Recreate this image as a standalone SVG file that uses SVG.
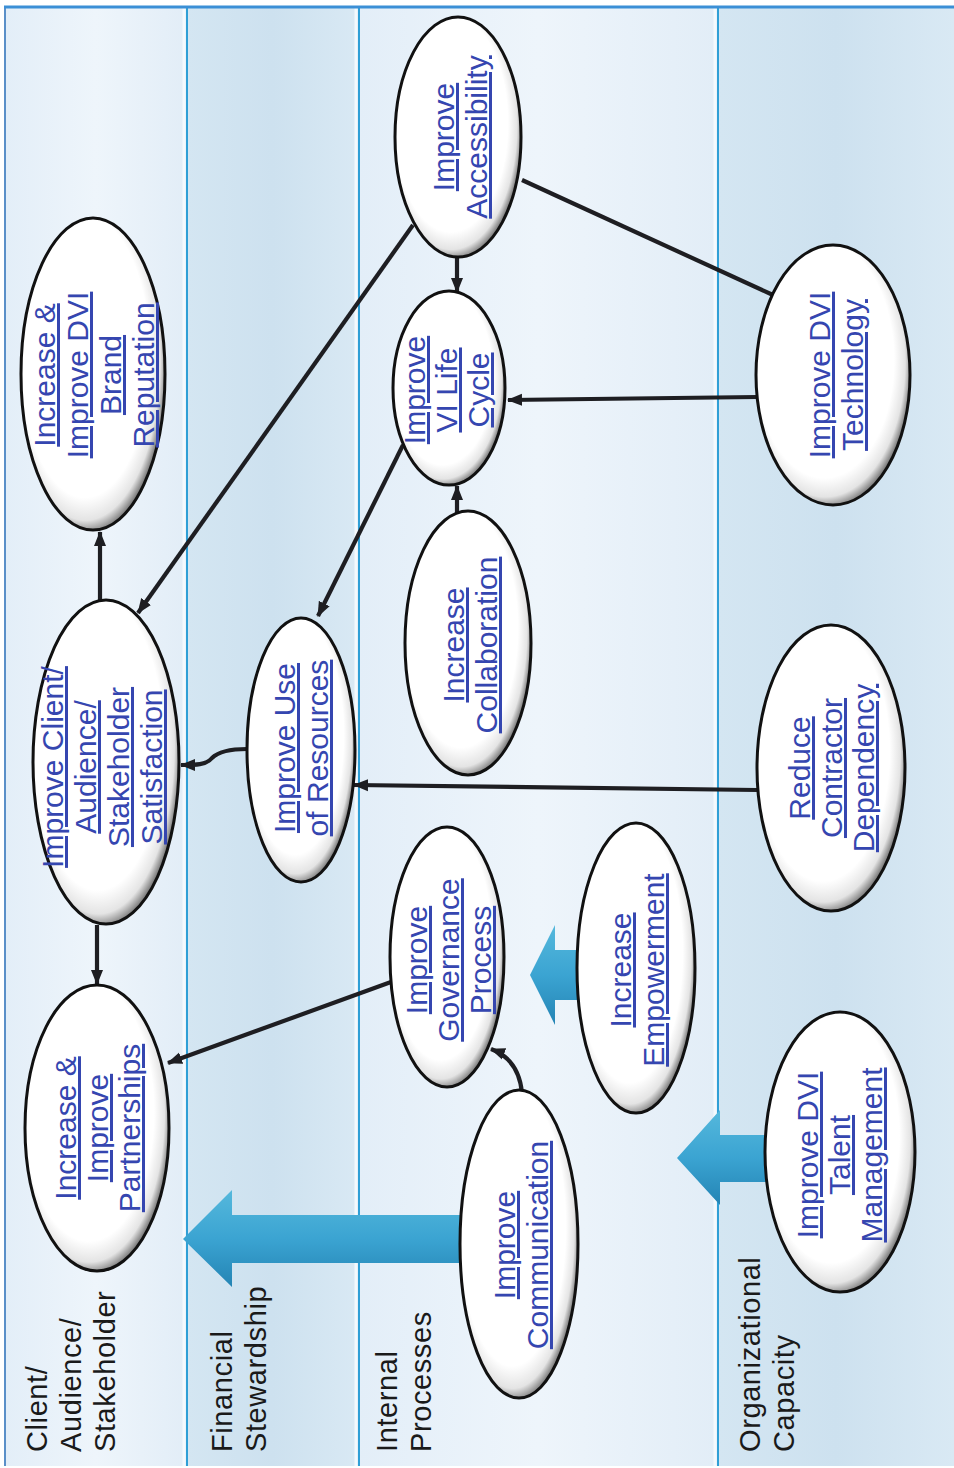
<svg xmlns="http://www.w3.org/2000/svg" width="954" height="1468" viewBox="0 0 954 1468">
<defs>
<style>
.node-text{font-family:"Liberation Sans",Arial,sans-serif;font-size:30px;fill:#3546b0;text-decoration:underline;text-anchor:middle}
.lane-text{font-family:"Liberation Sans",Arial,sans-serif;font-size:29px;fill:#1a1a1a;letter-spacing:0.6px}
.ell{fill:url(#ellGrad);stroke:#111;stroke-width:3}
.conn{fill:none;stroke:#1e1e22;stroke-width:4.2}
.block{fill:url(#blockGrad)}
.divider{stroke:#2f9fd6;stroke-width:2}
.divlight{stroke:#f4f9fd;stroke-width:3}
</style>
<radialGradient id="ellGrad" cx="0.45" cy="0.45" r="0.58" fx="0.42" fy="0.42">
<stop offset="0" stop-color="#ffffff"/>
<stop offset="0.78" stop-color="#ffffff"/>
<stop offset="0.9" stop-color="#e4e4e4"/>
<stop offset="1" stop-color="#555555"/>
</radialGradient>
<linearGradient id="blockGrad" x1="0" y1="0" x2="0" y2="1">
<stop offset="0" stop-color="#55b8dc"/>
<stop offset="0.5" stop-color="#3ba4d2"/>
<stop offset="1" stop-color="#2484b4"/>
</linearGradient>
<linearGradient id="laneLight" x1="0" y1="0" x2="1" y2="0">
<stop offset="0" stop-color="#e3eef8"/>
<stop offset="0.5" stop-color="#eef5fb"/>
<stop offset="1" stop-color="#e2edf7"/>
</linearGradient>
<linearGradient id="laneDark" x1="0" y1="0" x2="1" y2="0">
<stop offset="0" stop-color="#d4e6f2"/>
<stop offset="0.5" stop-color="#cde1ef"/>
<stop offset="1" stop-color="#d9e9f4"/>
</linearGradient>
<marker id="arr" markerUnits="userSpaceOnUse" markerWidth="16" markerHeight="14" refX="14" refY="7" orient="auto">
<path d="M0,1 L15,7 L0,13 Z" fill="#1e1e22"/>
</marker>
</defs>

<g id="lanes">
<rect x="5" y="7" width="182" height="1459" fill="url(#laneLight)"/>
<rect x="187" y="7" width="172" height="1459" fill="url(#laneDark)"/>
<rect x="359" y="7" width="359" height="1459" fill="url(#laneLight)"/>
<rect x="718" y="7" width="236" height="1459" fill="url(#laneDark)"/>
<line class="divlight" x1="184" y1="7" x2="184" y2="1466"/>
<line class="divlight" x1="356" y1="7" x2="356" y2="1466"/>
<line class="divlight" x1="715" y1="7" x2="715" y2="1466"/>
<line class="divider" x1="187" y1="7" x2="187" y2="1466"/>
<line class="divider" x1="359" y1="7" x2="359" y2="1466"/>
<line class="divider" x1="718" y1="7" x2="718" y2="1466"/>
<line x1="5" y1="7" x2="5" y2="1466" stroke="#5a8fc8" stroke-width="2"/>
<line x1="4" y1="7" x2="954" y2="7" stroke="#3b8fd6" stroke-width="3"/>
</g>

<g id="lane-labels">
<text class="lane-text" transform="translate(47,1452) rotate(-90)">Client/</text>
<text class="lane-text" transform="translate(81,1452) rotate(-90)">Audience/</text>
<text class="lane-text" transform="translate(115,1452) rotate(-90)">Stakeholder</text>
<text class="lane-text" transform="translate(232,1452) rotate(-90)">Financial</text>
<text class="lane-text" transform="translate(266,1452) rotate(-90)">Stewardship</text>
<text class="lane-text" transform="translate(397,1452) rotate(-90)">Internal</text>
<text class="lane-text" transform="translate(431,1452) rotate(-90)">Processes</text>
<text class="lane-text" transform="translate(760,1452) rotate(-90)">Organizational</text>
<text class="lane-text" transform="translate(794,1452) rotate(-90)">Capacity</text>
</g>

<g id="block-arrows">
<path class="block" d="M460,1215 L232,1215 L232,1190 L183,1239 L232,1287 L232,1263 L460,1263 Z"/>
<path class="block" d="M578,950 L555,950 L555,925 L530,975 L555,1025 L555,1000 L578,1000 Z"/>
<path class="block" d="M766,1135 L720,1135 L720,1110 L677,1158 L720,1205 L720,1182 L766,1182 Z"/>
</g>

<g id="connectors">
<line class="conn" x1="100" y1="600" x2="100" y2="532" marker-end="url(#arr)"/>
<line class="conn" x1="97" y1="925" x2="97" y2="984" marker-end="url(#arr)"/>
<line class="conn" x1="413" y1="225" x2="138" y2="613" marker-end="url(#arr)"/>
<line class="conn" x1="457" y1="258" x2="457" y2="292" marker-end="url(#arr)"/>
<line class="conn" x1="522" y1="180" x2="773" y2="295"/>
<line class="conn" x1="757" y1="397" x2="508" y2="400" marker-end="url(#arr)"/>
<line class="conn" x1="403" y1="445" x2="318" y2="616" marker-end="url(#arr)"/>
<line class="conn" x1="457" y1="513" x2="457" y2="486" marker-end="url(#arr)"/>
<path class="conn" d="M247,749 C228,749 218,752 212,758 C206,765 196,765 181,765" marker-end="url(#arr)"/>
<line class="conn" x1="757" y1="790" x2="354" y2="785" marker-end="url(#arr)"/>
<line class="conn" x1="391" y1="982" x2="168" y2="1063" marker-end="url(#arr)"/>
<path class="conn" d="M522,1093 C520,1072 510,1056 491,1049" marker-end="url(#arr)"/>
</g>

<g id="node-accessibility">
<ellipse class="ell" cx="458" cy="137" rx="63" ry="120"/>
<text class="node-text" transform="translate(460,137) rotate(-90)"><tspan x="0" y="-6">Improve</tspan><tspan x="0" y="27">Accessibility</tspan></text>
</g>
<g id="node-vi-life-cycle">
<ellipse class="ell" cx="449" cy="388" rx="56" ry="97"/>
<text class="node-text" transform="translate(447,390) rotate(-90)"><tspan x="0" y="-22">Improve</tspan><tspan x="0" y="10">VI Life</tspan><tspan x="0" y="42">Cycle</tspan></text>
</g>
<g id="node-dvi-technology">
<ellipse class="ell" cx="833" cy="375" rx="77" ry="130"/>
<text class="node-text" transform="translate(836,375) rotate(-90)"><tspan x="0" y="-6">Improve DVI</tspan><tspan x="0" y="27">Technology</tspan></text>
</g>
<g id="node-brand-reputation">
<ellipse class="ell" cx="93" cy="374" rx="72" ry="156"/>
<text class="node-text" transform="translate(94,375) rotate(-90)"><tspan x="0" y="-39">Increase &amp;</tspan><tspan x="0" y="-6">Improve DVI</tspan><tspan x="0" y="27">Brand</tspan><tspan x="0" y="60">Reputation</tspan></text>
</g>
<g id="node-satisfaction">
<ellipse class="ell" cx="106" cy="762" rx="73" ry="162"/>
<text class="node-text" transform="translate(102,767) rotate(-90)"><tspan x="0" y="-39">Improve Client/</tspan><tspan x="0" y="-6">Audience/</tspan><tspan x="0" y="27">Stakeholder</tspan><tspan x="0" y="60">Satisfaction</tspan></text>
</g>
<g id="node-use-of-resources">
<ellipse class="ell" cx="301" cy="750" rx="54" ry="132"/>
<text class="node-text" transform="translate(301,748) rotate(-90)"><tspan x="0" y="-6">Improve Use</tspan><tspan x="0" y="27">of Resources</tspan></text>
</g>
<g id="node-collaboration">
<ellipse class="ell" cx="468" cy="643" rx="63" ry="132"/>
<text class="node-text" transform="translate(470,645) rotate(-90)"><tspan x="0" y="-6">Increase</tspan><tspan x="0" y="27">Collaboration</tspan></text>
</g>
<g id="node-contractor-dependency">
<ellipse class="ell" cx="831" cy="768" rx="74" ry="143"/>
<text class="node-text" transform="translate(832,768) rotate(-90)"><tspan x="0" y="-22">Reduce</tspan><tspan x="0" y="10">Contractor</tspan><tspan x="0" y="42">Dependency</tspan></text>
</g>
<g id="node-governance">
<ellipse class="ell" cx="447" cy="957" rx="57" ry="130"/>
<text class="node-text" transform="translate(449,960) rotate(-90)"><tspan x="0" y="-22">Improve</tspan><tspan x="0" y="10">Governance</tspan><tspan x="0" y="42">Process</tspan></text>
</g>
<g id="node-empowerment">
<ellipse class="ell" cx="636" cy="968" rx="59" ry="145"/>
<text class="node-text" transform="translate(637,970) rotate(-90)"><tspan x="0" y="-6">Increase</tspan><tspan x="0" y="27">Empowerment</tspan></text>
</g>
<g id="node-partnerships">
<ellipse class="ell" cx="97" cy="1128" rx="72" ry="143"/>
<text class="node-text" transform="translate(98,1128) rotate(-90)"><tspan x="0" y="-22">Increase &amp;</tspan><tspan x="0" y="10">Improve</tspan><tspan x="0" y="42">Partnerships</tspan></text>
</g>
<g id="node-communication">
<ellipse class="ell" cx="519" cy="1244" rx="59" ry="154"/>
<text class="node-text" transform="translate(521,1245) rotate(-90)"><tspan x="0" y="-6">Improve</tspan><tspan x="0" y="27">Communication</tspan></text>
</g>
<g id="node-talent-management">
<ellipse class="ell" cx="840" cy="1152" rx="75" ry="140"/>
<text class="node-text" transform="translate(840,1155) rotate(-90)"><tspan x="0" y="-22">Improve DVI</tspan><tspan x="0" y="10">Talent</tspan><tspan x="0" y="42">Management</tspan></text>
</g>
</svg>
